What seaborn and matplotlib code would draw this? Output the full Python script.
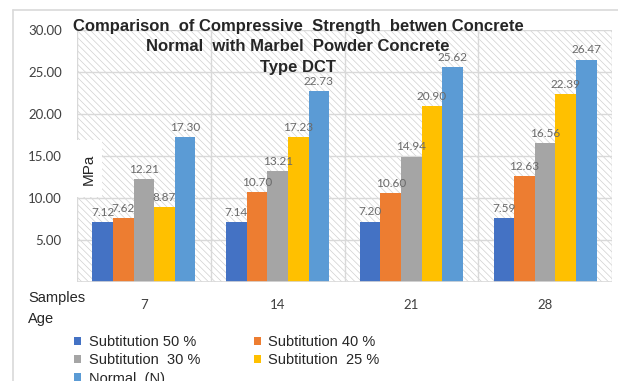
import pandas as pd
import matplotlib
matplotlib.use("Agg")
import matplotlib.pyplot as plt
from matplotlib.patches import Rectangle, Patch
from matplotlib.lines import Line2D
import seaborn as sns

# ---- data ----
ages = ["7", "14", "21", "28"]
series = ["Subtitution 50 %", "Subtitution 40 %", "Subtitution  30 %",
          "Subtitution  25 %", "Normal  (N)"]
sub_50 = [7.12, 7.14, 7.20, 7.59]
sub_40 = [7.62, 10.70, 10.60, 12.63]
sub_30 = [12.21, 13.21, 14.94, 16.56]
sub_25 = [8.87, 17.23, 20.90, 22.39]
normal = [17.30, 22.73, 25.62, 26.47]
y_ticks = [5, 10, 15, 20, 25, 30]

colors = ["#4472C4", "#ED7D31", "#A5A5A5", "#FFC000", "#5B9BD5"]

rows = []
for name, vals in zip(series, [sub_50, sub_40, sub_30, sub_25, normal]):
    for age, v in zip(ages, vals):
        rows.append({"Age": age, "MPa": v, "Series": name})
df = pd.DataFrame(rows)

sns.set_theme(style="white")
plt.rcParams["hatch.linewidth"] = 0.5
plt.rcParams["hatch.color"] = "#d0d0d0"

W, H = 618, 381
fig = plt.figure(figsize=(W / 100, H / 100), dpi=100)
fig.patch.set_facecolor("white")
ax = fig.add_axes([77 / W, 1 - 282 / H, (612 - 77) / W, (282 - 30) / H])

# hatched background of the plot area
ax.add_patch(Rectangle((0, 0), 1, 1, transform=ax.transAxes, facecolor="white",
                       edgecolor="#d0d0d0", hatch="\\\\\\\\\\", linewidth=0, zorder=0))

sns.barplot(data=df, x="Age", y="MPa", hue="Series", hue_order=series,
            palette=colors, saturation=1, width=0.77, gap=0, linewidth=0,
            legend=False, ax=ax, zorder=3)

ax.set_xlim(-0.5, len(ages) - 0.5)
ax.set_ylim(0, 30)
ax.set_yticks(y_ticks)
ax.set_yticklabels([f"{t:.2f}" for t in y_ticks], fontsize=9.5,
                   family="Lato", color="#404040")
ax.set_xticks(range(len(ages)))
ax.set_xticklabels(ages, fontsize=9.5, family="Lato", color="#404040")
ax.tick_params(axis="y", length=0, pad=11)
ax.tick_params(axis="x", length=0, pad=12)
ax.set_xlabel("")
ax.set_ylabel("")

for t in y_ticks:
    ax.axhline(t, color="#d9d9d9", linewidth=1, zorder=1)
for b in [i - 0.5 for i in range(len(ages) + 1)]:
    ax.axvline(b, color="#d9d9d9", linewidth=1, zorder=1)
for s in ax.spines.values():
    s.set_visible(False)
ax.axhline(0, color="#d9d9d9", linewidth=1.2, zorder=4)

for cont in ax.containers:
    ax.bar_label(cont, fmt="%.2f", padding=3, fontsize=8.5, family="Lato",
                 color="#6a6a6a", zorder=5)

# title (overlapping the top of the plot area, as in the reference)
fig.text(298 / W, 1 - 19 / H,
         "Comparison  of Compressive  Strength  betwen Concrete\n"
         "Normal  with Marbel  Powder Concrete\nType DCT",
         ha="center", va="top", fontsize=12, fontweight="bold",
         family="Liberation Sans", linespacing=1.45, zorder=6)

# MPa label on a white box
fig.patches.append(Rectangle((75 / W, 1 - 197 / H), 27 / W, 57 / H,
                             transform=fig.transFigure, facecolor="white",
                             edgecolor="none", zorder=5))
fig.text(89 / W, 1 - 169 / H, "MPa", rotation=90, ha="center", va="center",
         fontsize=11, family="Liberation Sans", zorder=6)

fig.text(28 / W, 1 - 291 / H, "Samples\nAge", ha="left", va="top",
         fontsize=10.5, family="Liberation Sans", linespacing=1.6)

# legend (column-wise fill gives Excel's row order)
order = [0, 2, 4, 1, 3]
handles = [Patch(facecolor=colors[i], edgecolor="none", label=series[i]) for i in order]
fig.legend(handles=handles, loc="upper left", bbox_to_anchor=(74 / W, 1 - 335 / H),
           ncol=2, frameon=False, prop={"family": "Liberation Sans", "size": 10.5},
           handlelength=0.5, handleheight=0.5, handletextpad=0.5,
           columnspacing=3.7, labelspacing=0.3, borderpad=0, borderaxespad=0)

# outer chart border
fig.add_artist(Line2D([13 / W, 1], [1 - 10 / H, 1 - 10 / H], transform=fig.transFigure,
                      color="#d9d9d9", linewidth=1.2))
fig.add_artist(Line2D([13 / W, 13 / W], [0, 1 - 10 / H], transform=fig.transFigure,
                      color="#d9d9d9", linewidth=1.2))

fig.savefig("out.png", dpi=100)
